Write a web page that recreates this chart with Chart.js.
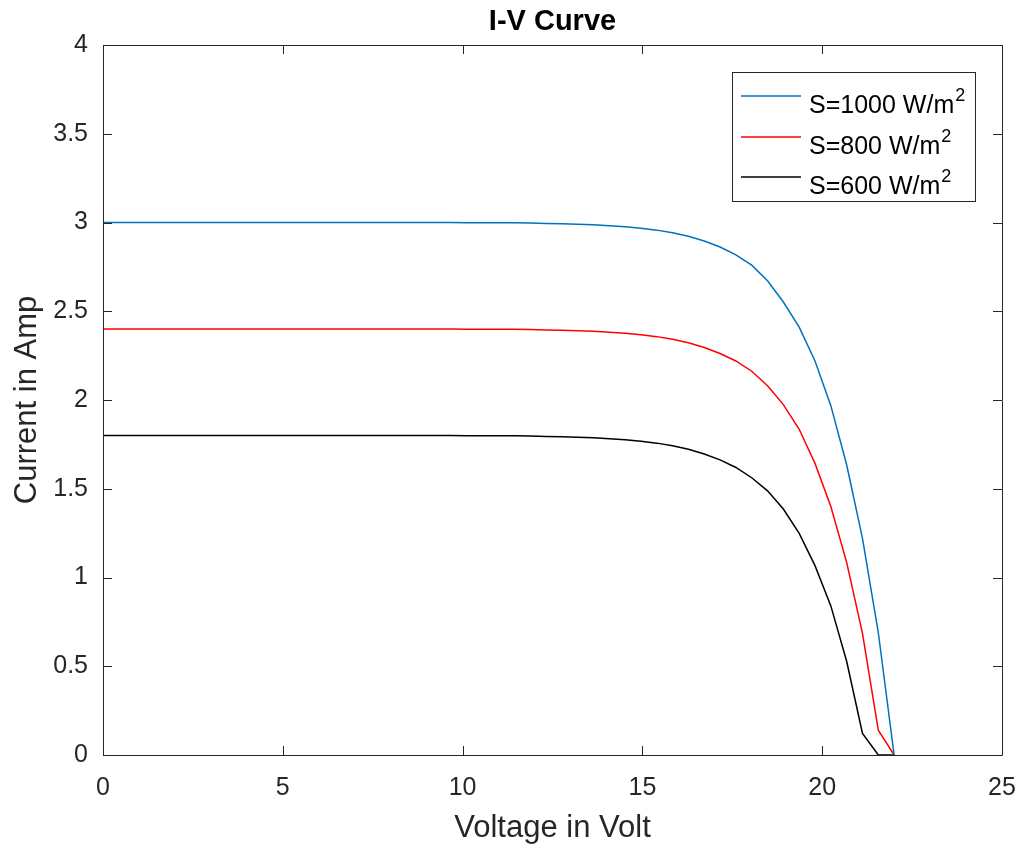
<!DOCTYPE html>
<html>
<head>
<meta charset="utf-8">
<title>I-V Curve</title>
<script src="https://cdn.jsdelivr.net/npm/chart.js@4.4.1/dist/chart.umd.min.js"></script>
<style>
  html, body { margin: 0; padding: 0; background: #fff; }
  #wrap { width: 1021px; height: 850px; }
</style>
</head>
<body>
<div id="wrap"><canvas id="ivChart" width="1021" height="850"></canvas></div>
<script>
// voltage samples (V)
const voltage = [
  0, 0.44, 0.88, 1.32, 1.76, 2.2, 2.64, 3.08, 3.52, 3.96,
  4.4, 4.84, 5.28, 5.72, 6.16, 6.6, 7.04, 7.48, 7.92, 8.36,
  8.8, 9.24, 9.68, 10.12, 10.56, 11, 11.44, 11.88, 12.32, 12.76,
  13.2, 13.64, 14.08, 14.52, 14.96, 15.4, 15.84, 16.28, 16.72, 17.16,
  17.6, 18.04, 18.48, 18.92, 19.36, 19.8, 20.24, 20.68, 21.12, 21.56, 22
];

// current in A
const current1000 = [
  3, 3, 3, 3, 3, 3, 3, 3, 3, 3,
  3, 3, 3, 3, 3, 3, 3, 3, 3, 3,
  3, 3, 3, 2.999, 2.999, 2.999, 2.998, 2.997, 2.995, 2.993,
  2.99, 2.987, 2.982, 2.976, 2.968, 2.957, 2.942, 2.922, 2.896, 2.862,
  2.818, 2.76, 2.672, 2.552, 2.41, 2.22, 1.968, 1.635, 1.22, 0.69, 0
];
const current800 = [
  2.4, 2.4, 2.4, 2.4, 2.4, 2.4, 2.4, 2.4, 2.4, 2.4,
  2.4, 2.4, 2.4, 2.4, 2.4, 2.4, 2.4, 2.4, 2.4, 2.4,
  2.4, 2.4, 2.4, 2.399, 2.399, 2.399, 2.398, 2.397, 2.395, 2.393,
  2.39, 2.387, 2.382, 2.376, 2.368, 2.357, 2.342, 2.322, 2.296, 2.262,
  2.22, 2.162, 2.08, 1.974, 1.835, 1.643, 1.4, 1.085, 0.685, 0.14, 0
];
const current600 = [
  1.8, 1.8, 1.8, 1.8, 1.8, 1.8, 1.8, 1.8, 1.8, 1.8,
  1.8, 1.8, 1.8, 1.8, 1.8, 1.8, 1.8, 1.8, 1.8, 1.8,
  1.8, 1.8, 1.8, 1.799, 1.799, 1.799, 1.798, 1.797, 1.795, 1.793,
  1.79, 1.787, 1.782, 1.776, 1.768, 1.757, 1.742, 1.722, 1.696, 1.663,
  1.62, 1.562, 1.488, 1.386, 1.249, 1.067, 0.84, 0.528, 0.122, 0, 0
];

const seriesLabels = ["S=1000 W/m", "S=800 W/m", "S=600 W/m"];
const seriesColors = ["#0072BD", "#FF0000", "#000000"];

const axisColor = "#262626";
const fontFamily = "'Liberation Sans', Arial, Helvetica, sans-serif";

const toPoints = (ys) => voltage.map((v, i) => ({ x: v, y: ys[i] }));

// box around the plot with MATLAB style inner ticks, plus the title
const boxPlugin = {
  id: "boxTicks",
  afterDatasetsDraw(chart) {
    const { ctx, chartArea: a, scales } = chart;
    const len = 9;
    ctx.save();
    ctx.strokeStyle = axisColor;
    ctx.lineWidth = 1;
    ctx.beginPath();
    ctx.rect(a.left + 0.5, a.top + 0.5, a.right - a.left, a.bottom - a.top);
    scales.x.ticks.forEach((t) => {
      const px = Math.round(scales.x.getPixelForValue(t.value)) + 0.5;
      ctx.moveTo(px, a.bottom);
      ctx.lineTo(px, a.bottom - len);
      ctx.moveTo(px, a.top);
      ctx.lineTo(px, a.top + len);
    });
    scales.y.ticks.forEach((t) => {
      const py = Math.round(scales.y.getPixelForValue(t.value)) + 0.5;
      ctx.moveTo(a.left, py);
      ctx.lineTo(a.left + len, py);
      ctx.moveTo(a.right, py);
      ctx.lineTo(a.right - len, py);
    });
    ctx.stroke();

    ctx.fillStyle = "#000";
    ctx.font = "bold 29px " + fontFamily;
    ctx.textAlign = "center";
    ctx.textBaseline = "middle";
    ctx.fillText("I-V Curve", (a.left + a.right) / 2, 22);
    ctx.restore();
  },
};

// legend inside the axes, top right, with superscript 2
const legendPlugin = {
  id: "innerLegend",
  afterDraw(chart) {
    const { ctx } = chart;
    const box = { x: 732, y: 72, w: 243, h: 129 };
    const rowY = [96, 137, 177];
    ctx.save();
    ctx.fillStyle = "#fff";
    ctx.fillRect(box.x, box.y, box.w, box.h);
    ctx.strokeStyle = axisColor;
    ctx.lineWidth = 1;
    ctx.strokeRect(box.x + 0.5, box.y + 0.5, box.w, box.h);
    chart.data.datasets.forEach((ds, i) => {
      const y = rowY[i];
      ctx.strokeStyle = ds.borderColor;
      ctx.lineWidth = 1.5;
      ctx.beginPath();
      ctx.moveTo(741, y);
      ctx.lineTo(801, y);
      ctx.stroke();
      ctx.fillStyle = "#000";
      ctx.textBaseline = "alphabetic";
      ctx.textAlign = "left";
      ctx.font = "25px " + fontFamily;
      ctx.fillText(ds.label, 809, y + 17);
      const w = ctx.measureText(ds.label).width;
      ctx.font = "18px " + fontFamily;
      ctx.fillText("2", 809 + w + 1, y + 5);
    });
    ctx.restore();
  },
};

new Chart(document.getElementById("ivChart"), {
  type: "line",
  data: {
    datasets: [
      { label: seriesLabels[0], data: toPoints(current1000), borderColor: seriesColors[0] },
      { label: seriesLabels[1], data: toPoints(current800), borderColor: seriesColors[1] },
      { label: seriesLabels[2], data: toPoints(current600), borderColor: seriesColors[2] },
    ],
  },
  options: {
    responsive: false,
    animation: false,
    layout: { padding: { left: 0, top: 45, right: 19, bottom: 0 } },
    elements: {
      point: { radius: 0 },
      line: { borderWidth: 1.5, tension: 0, fill: false },
    },
    plugins: {
      legend: { display: false },
      tooltip: { enabled: false },
      title: { display: false },
    },
    scales: {
      x: {
        type: "linear",
        min: 0,
        max: 25,
        afterFit: (s) => {
          s.height = 95;
          s.paddingLeft = 0;
          s.paddingRight = 0;
        },
        ticks: {
          stepSize: 5,
          color: axisColor,
          padding: 18,
          font: { family: fontFamily, size: 25 },
        },
        grid: { display: false, drawTicks: false },
        border: { display: false },
        title: {
          display: true,
          text: "Voltage in Volt",
          color: axisColor,
          font: { family: fontFamily, size: 31, lineHeight: 1.2 },
          padding: { top: 0, bottom: 3 },
        },
      },
      y: {
        type: "linear",
        min: 0,
        max: 4,
        afterFit: (s) => {
          s.width = 103;
          s.paddingTop = 0;
          s.paddingBottom = 0;
        },
        ticks: {
          stepSize: 0.5,
          color: axisColor,
          padding: 15,
          font: { family: fontFamily, size: 25 },
          callback: (v) => String(v),
        },
        grid: { display: false, drawTicks: false },
        border: { display: false },
        title: {
          display: true,
          text: "Current in Amp",
          color: axisColor,
          font: { family: fontFamily, size: 31, lineHeight: 1.2 },
          padding: { top: 9, bottom: 0 },
        },
      },
    },
  },
  plugins: [boxPlugin, legendPlugin],
});
</script>
</body>
</html>
